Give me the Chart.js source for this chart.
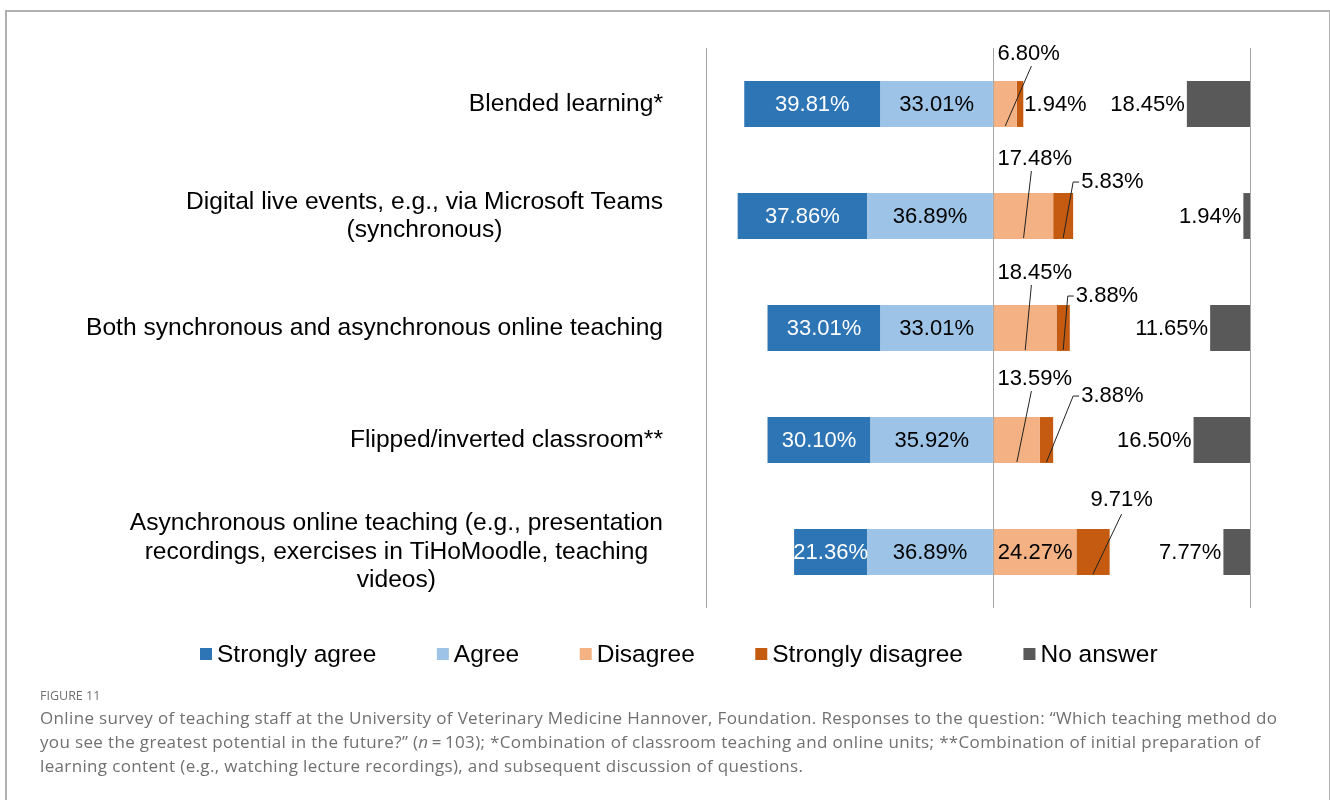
<!DOCTYPE html>
<html>
<head>
<meta charset="utf-8">
<script src="https://cdn.jsdelivr.net/npm/chart.js@4.4.0/dist/chart.umd.min.js"></script>
<style>
  body { margin: 0; background: #fff; width: 1330px; height: 800px; overflow: hidden; position: relative; }
  #frame { position: absolute; left: 5px; top: 10px; width: 1322px; height: 830px; border: 2px solid #b0b0b0; border-bottom: none; }
  #wrap { position: absolute; left: 0; top: 0; }
  #caption { position: absolute; left: 40px; top: 686px; font-family: "Open Sans", Lato, sans-serif; color: #707070; white-space: nowrap; }
  #caption .fig { font-size: 12.5px; line-height: 20px; }
  #caption .txt { font-size: 17px; letter-spacing: 0.35px; line-height: 24px; }
</style>
</head>
<body>
<div id="frame"></div>
<div id="wrap"><canvas id="surveyChart" width="1330" height="690"></canvas></div>
<div id="caption">
  <div class="fig">FIGURE 11</div>
  <div class="txt">Online survey of teaching staff at the University of Veterinary Medicine Hannover, Foundation. Responses to the question: “Which teaching method do<br>you see the greatest potential in the future?” (<i>n</i>&thinsp;=&thinsp;103); *Combination of classroom teaching and online units; **Combination of initial preparation of<br>learning content (e.g., watching lecture recordings), and subsequent discussion of questions.</div>
</div>
<script>
// categories (multi-line labels as in the original figure)
const categories = [
  ['Blended learning*'],
  ['Digital live events, e.g., via Microsoft Teams', '(synchronous)'],
  ['Both synchronous and asynchronous online teaching'],
  ['Flipped/inverted classroom**'],
  ['Asynchronous online teaching (e.g., presentation', 'recordings, exercises in TiHoMoodle, teaching', 'videos)']
];
const stronglyAgree    = [39.81, 37.86, 33.01, 30.10, 21.36];
const agree            = [33.01, 36.89, 33.01, 35.92, 36.89];
const disagree         = [6.80, 17.48, 18.45, 13.59, 24.27];
const stronglyDisagree = [1.94, 5.83, 3.88, 3.88, 9.71];
const noAnswer         = [18.45, 1.94, 11.65, 16.50, 7.77];

const axisMin = -84;
const axisMax = 75;
const gridAt = [axisMin, 0, axisMax];

const FONT = '"Liberation Sans", Arial, sans-serif';
const valueFontSize = 22;
const catFontSize = 24.6;
const legendFontSize = 24.5;

// where Excel put the hand-placed callouts (offsets relative to the bar)
const disagreeCallouts = [{ lift: 27 }, { lift: 34 }, { lift: 32 }, { lift: 38 }, null];
const strongCallouts = [
  { mode: 'end' },
  { mode: 'tick', dx: 8, lift: 11 },
  { mode: 'tick', dx: 6, lift: 9 },
  { mode: 'tick', dx: 28, lift: 21 },
  { mode: 'above', dx: 12, lift: 29 }
];

const legendOrder = ['Strongly agree', 'Agree', 'Disagree', 'Strongly disagree', 'No answer'];

const labelPlugin = {
  id: 'surveyLabels',
  afterDatasetsDraw(chart) {
    const ctx = chart.ctx;
    const zero = chart.scales.x.getPixelForValue(0);
    ctx.save();
    ctx.font = valueFontSize + 'px ' + FONT;
    ctx.textBaseline = 'middle';
    ctx.strokeStyle = '#222';
    ctx.lineWidth = 1;

    chart.data.datasets.forEach((ds, di) => {
      const meta = chart.getDatasetMeta(di);
      meta.data.forEach((bar, i) => {
        const p = bar.getProps(['x', 'y', 'base', 'height'], true);
        const left = Math.min(p.x, p.base);
        const right = Math.max(p.x, p.base);
        const top = p.y - p.height / 2;
        const bottom = p.y + p.height / 2;
        const mid = (left + right) / 2;
        const text = ds.values[i].toFixed(2) + '%';

        if (ds.labelMode === 'inside' || (ds.labelMode === 'disagree' && !disagreeCallouts[i])) {
          ctx.fillStyle = ds.labelColor;
          ctx.textAlign = 'center';
          ctx.fillText(text, mid, p.y + 1);
        } else if (ds.labelMode === 'disagree') {
          const c = disagreeCallouts[i];
          const ty = top - c.lift;
          const tx = zero + 4;
          ctx.fillStyle = '#000';
          ctx.textAlign = 'left';
          ctx.fillText(text, tx, ty);
          ctx.beginPath();
          ctx.moveTo(mid, bottom - 1);
          ctx.lineTo(tx + 34, ty + 12);
          ctx.stroke();
        } else if (ds.labelMode === 'strong') {
          const c = strongCallouts[i];
          ctx.fillStyle = '#000';
          if (c.mode === 'end') {
            ctx.textAlign = 'left';
            ctx.fillText(text, right + 1, p.y + 1);
          } else if (c.mode === 'tick') {
            const tx = right + c.dx;
            const ty = top - c.lift;
            ctx.textAlign = 'left';
            ctx.fillText(text, tx, ty);
            ctx.beginPath();
            ctx.moveTo(mid, bottom - 1);
            ctx.lineTo(tx - 8, ty);
            ctx.lineTo(tx - 2, ty);
            ctx.stroke();
          } else {
            const tx = right + c.dx;
            const ty = top - c.lift;
            ctx.textAlign = 'center';
            ctx.fillText(text, tx, ty);
            ctx.beginPath();
            ctx.moveTo(mid, bottom - 1);
            ctx.lineTo(tx, ty + 14);
            ctx.stroke();
          }
        } else if (ds.labelMode === 'left') {
          ctx.fillStyle = '#000';
          ctx.textAlign = 'right';
          ctx.fillText(text, left - 2, p.y + 1);
        }
      });
    });
    ctx.restore();
  },
  afterDraw(chart) {
    const ctx = chart.ctx;
    const ys = chart.scales.y;
    const area = chart.chartArea;
    ctx.save();
    // category labels: block right-aligned, lines centred inside the block
    ctx.font = catFontSize + 'px ' + FONT;
    ctx.fillStyle = '#000';
    ctx.textAlign = 'center';
    ctx.textBaseline = 'middle';
    const lineH = 28.5;
    chart.data.labels.forEach((lines, i) => {
      const cy = ys.getPixelForTick(i);
      const w = Math.max(...lines.map(l => ctx.measureText(l).width));
      const cx = area.left - 43 - w / 2;
      lines.forEach((l, k) => {
        ctx.fillText(l, cx, cy + (k - (lines.length - 1) / 2) * lineH);
      });
    });

    // legend
    ctx.font = legendFontSize + 'px ' + FONT;
    const items = legendOrder.map(name => chart.data.datasets.find(d => d.label === name));
    const box = 12, gapBox = 5, gapItem = 60.5;
    const widths = items.map(d => box + gapBox + ctx.measureText(d.label).width);
    let x = 200;
    const ly = 654;
    ctx.textAlign = 'left';
    items.forEach((d, k) => {
      ctx.fillStyle = d.backgroundColor;
      ctx.fillRect(x, ly - box / 2, box, box);
      ctx.fillStyle = '#000';
      ctx.fillText(d.label, x + box + gapBox, ly + 1);
      x += widths[k] + gapItem;
    });
    ctx.restore();
  }
};

new Chart(document.getElementById('surveyChart'), {
  type: 'bar',
  data: {
    labels: categories,
    datasets: [
      {
        label: 'Agree',
        data: agree.map(v => -v),
        values: agree,
        backgroundColor: '#9dc3e6',
        stack: 'resp',
        labelMode: 'inside',
        labelColor: '#000'
      },
      {
        label: 'Strongly agree',
        data: stronglyAgree.map(v => -v),
        values: stronglyAgree,
        backgroundColor: '#2e75b6',
        stack: 'resp',
        labelMode: 'inside',
        labelColor: '#fff'
      },
      {
        label: 'Disagree',
        data: disagree,
        values: disagree,
        backgroundColor: '#f4b183',
        stack: 'resp',
        labelMode: 'disagree',
        labelColor: '#000'
      },
      {
        label: 'Strongly disagree',
        data: stronglyDisagree,
        values: stronglyDisagree,
        backgroundColor: '#c55a11',
        stack: 'resp',
        labelMode: 'strong'
      },
      {
        label: 'No answer',
        data: noAnswer.map(v => [axisMax - v, axisMax]),
        values: noAnswer,
        backgroundColor: '#595959',
        stack: 'na',
        labelMode: 'left'
      }
    ]
  },
  options: {
    indexAxis: 'y',
    responsive: false,
    animation: false,
    devicePixelRatio: 1,
    datasets: {
      bar: { grouped: false, categoryPercentage: 1, barPercentage: 0.41, borderWidth: 0 }
    },
    layout: { padding: { left: 706, right: 80, top: 48, bottom: 82 } },
    scales: {
      x: {
        type: 'linear',
        stacked: true,
        min: axisMin,
        max: axisMax,
        afterBuildTicks: axis => { axis.ticks = gridAt.map(v => ({ value: v })); },
        ticks: { display: false },
        grid: { color: '#a6a6a6', lineWidth: 1, drawTicks: false },
        border: { display: false }
      },
      y: {
        stacked: true,
        display: false
      }
    },
    plugins: {
      legend: { display: false },
      tooltip: { enabled: false }
    }
  },
  plugins: [labelPlugin]
});
</script>
</body>
</html>
